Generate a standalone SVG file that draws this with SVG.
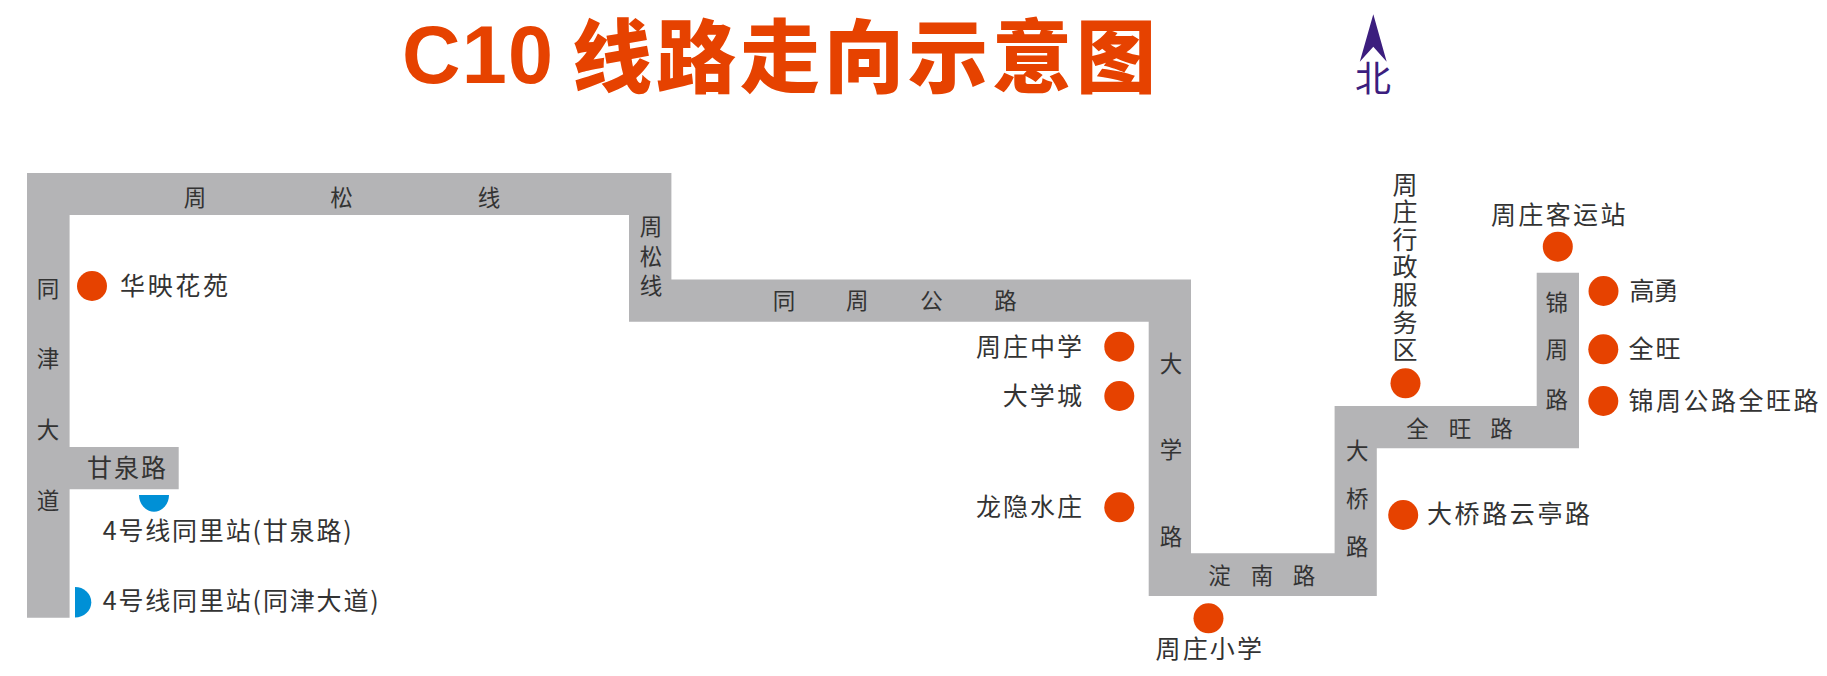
<svg xmlns="http://www.w3.org/2000/svg" width="1827" height="676" viewBox="0 0 1827 676">
<style>
text{font-family:"Noto Sans CJK SC","Liberation Sans",sans-serif;fill:#333}
.r{font-size:22.5px;text-anchor:middle}
.l{font-size:25px}
.m{text-anchor:middle}
.d{fill:#E64200}
.b{fill:#0090D6}
.t{fill:#E64200;font-weight:900;font-size:80px}
</style>
<rect width="1827" height="676" fill="#fff"/>
<g id="title">
<text class="t" x="402" y="83" textLength="151" style="font-family:'Liberation Sans',sans-serif;font-weight:700;font-size:81px">C10</text>
<text class="t" x="572" y="86" letter-spacing="4">线路走向示意图</text>
</g>
<g id="compass">
<polygon points="1373.3,14.3 1386.7,61.7 1373.3,46.7 1359.8,61.7" fill="#3C1E7E"/>
<text x="1373" y="92" class="m" style="fill:#3C1E7E;font-size:36px">北</text>
</g>
<g id="connectors">
<polygon id="roads" fill="#B4B4B6" points="27,173 671.4,173 671.4,279.5 1191,279.5 1191,553.3 1334.6,553.3 1334.6,406 1536.7,406 1536.7,272.7 1579,272.7 1579,448.3 1376.8,448.3 1376.8,596 1148.7,596 1148.7,321.7 629,321.7 629,215 69.6,215 69.6,447 178.7,447 178.7,489.3 69.6,489.3 69.6,617.7 27,617.7"/>
</g>
<g id="road-labels">
<text class="r" x="195 341.5 489" y="206">周松线</text>
<text class="r" x="651 651 651" y="235 265 294">周松线</text>
<text class="r" x="48 48 48 48" y="297 367 438 509">同津大道</text>
<text class="l" x="87" y="477" textLength="79">甘泉路</text>
<text class="r" x="784 857.3 931.5 1005.4" y="309">同周公路</text>
<text class="r" x="1171 1171 1171" y="372 458 545">大学路</text>
<text class="r" x="1219.6 1262 1304" y="584">淀南路</text>
<text class="r" x="1357.3 1357.3 1357.3" y="459 507 555">大桥路</text>
<text class="r" x="1417.6 1460 1501.5" y="437">全旺路</text>
<text class="r" x="1556.7 1556.7 1556.7" y="311 358 408">锦周路</text>
</g>
<g id="s-huaying"><circle class="d" cx="92" cy="286" r="15"/><text class="l" x="120" y="295" textLength="108">华映花苑</text></g>
<g id="s-tongli-ganquan"><path class="b" d="M139,495H169A15,16.7 0 0 1 139,495Z"/><text class="l" x="102.7" y="540" textLength="249">4号线同里站(甘泉路)</text></g>
<g id="s-tongli-tongjin"><path class="b" d="M75,587A16.3,15.2 0 0 1 75,617.4Z"/><text class="l" x="102.7" y="610" textLength="276">4号线同里站(同津大道)</text></g>
<g id="s-zhongxue"><circle class="d" cx="1119.3" cy="346.7" r="15"/><text class="l" x="976" y="355.5" textLength="106">周庄中学</text></g>
<g id="s-daxuecheng"><circle class="d" cx="1119.3" cy="396" r="15"/><text class="l" x="1002.7" y="405" textLength="79.3">大学城</text></g>
<g id="s-longyin"><circle class="d" cx="1119.3" cy="507.3" r="15"/><text class="l" x="976" y="515.5" textLength="106">龙隐水庄</text></g>
<g id="s-xiaoxue"><circle class="d" cx="1208.5" cy="618.3" r="15"/><text class="l" x="1155.6" y="658" textLength="106.4">周庄小学</text></g>
<g id="s-xingzheng"><circle class="d" cx="1405.5" cy="383.3" r="15"/><text class="l m" x="1405 1405 1405 1405 1405 1405 1405" y="193.5 221 248.5 276 304 331.5 359">周庄行政服务区</text></g>
<g id="s-daqiao"><circle class="d" cx="1403.2" cy="515" r="15"/><text class="l" x="1427" y="523" textLength="163">大桥路云亭路</text></g>
<g id="s-keyun"><circle class="d" cx="1557.8" cy="246.7" r="15"/><text class="l" x="1491" y="224" textLength="134.4">周庄客运站</text></g>
<g id="s-gaoyong"><circle class="d" cx="1603.5" cy="291" r="15"/><text class="l" x="1629.4" y="299.5" textLength="49.4">高勇</text></g>
<g id="s-quanwang"><circle class="d" cx="1603.3" cy="349.3" r="15"/><text class="l" x="1628.5" y="358" textLength="52">全旺</text></g>
<g id="s-jinzhou"><circle class="d" cx="1603.3" cy="401" r="15"/><text class="l" x="1628.5" y="409.5" textLength="190">锦周公路全旺路</text></g>
</svg>
